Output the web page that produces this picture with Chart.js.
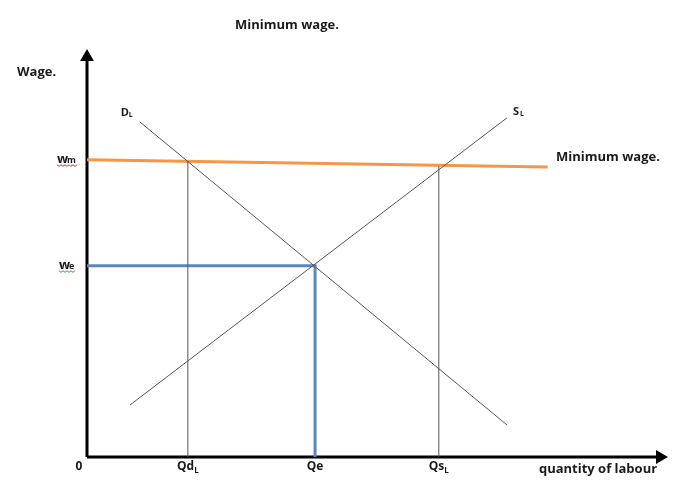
<!DOCTYPE html>
<html>
<head>
<meta charset="utf-8">
<script src="https://cdn.jsdelivr.net/npm/chart.js@4.4.1/dist/chart.umd.min.js"></script>
<style>
  html, body { margin: 0; padding: 0; background: #fff; }
  #wrap { width: 694px; height: 493px; }
</style>
</head>
<body>
<div id="wrap"><canvas id="chart"></canvas></div>
<script>
// quantity of labour (x) and wage (y), both on a 0..100 scale
const quantityTicks = [0, 17.6, 39.8, 61.4];
const quantityLabels = ['0', 'Qd', 'Qe', 'Qs'];
const quantitySubs = ['', 'L', '', 'L'];

const demandX = [9.2, 73.3];
const demandY = [83.8, 8.0];
const supplyX = [7.5, 73.3];
const supplyY = [13.0, 84.8];

const minWageX = [0, 80.4];
const minWageY = [74.3, 72.5];

const eqX = [0, 39.8, 39.8];
const eqY = [47.8, 47.8, 0];

const qdX = [17.6, 17.6];
const qdY = [0, 74.0];
const qsX = [61.4, 61.4];
const qsY = [0, 72.7];

const FONT = '"Open Sans", Lato, sans-serif';

function pts(xs, ys) {
  return xs.map((x, i) => ({ x: x, y: ys[i] }));
}

function line(xs, ys, color, width, extra) {
  return Object.assign({
    data: pts(xs, ys),
    borderColor: color,
    backgroundColor: color,
    borderWidth: width,
    pointRadius: 0,
    tension: 0,
    clip: false,
    fill: false,
  }, extra || {});
}

// draws labels next to marks, plus the heading
const labelPlugin = {
  id: 'labels',
  afterDatasetsDraw(chart) {
    const ctx = chart.ctx;
    const xs = chart.scales.x, ys = chart.scales.y;
    ctx.save();
    ctx.fillStyle = '#1a1a1a';
    ctx.textBaseline = 'middle';

    function txt(s, x, y, size, align) {
      ctx.font = 'bold ' + size + 'px ' + FONT;
      ctx.textAlign = align || 'left';
      ctx.fillText(s, x, y);
      return ctx.measureText(s).width;
    }
    function withSub(main, sub, cx, y) {
      ctx.font = 'bold 12px ' + FONT;
      const w1 = ctx.measureText(main).width;
      ctx.font = 'bold 8px ' + FONT;
      const w2 = sub ? ctx.measureText(sub).width : 0;
      const left = cx - (w1 + w2) / 2;
      txt(main, left, y, 12);
      if (sub) txt(sub, left + w1, y + 4, 8);
    }

    // heading
    txt('Minimum wage.', 287, 25, 13, 'center');
    txt('Wage.', 17, 72, 13);
    txt('Minimum wage.', 556, 157, 13);

    // curve names
    const dx = xs.getPixelForValue(demandX[0]) - 14, dy = ys.getPixelForValue(demandY[0]) - 9;
    txt('D', dx - 5, dy, 11);
    txt('L', dx + 3, dy + 2, 7);
    const sx = xs.getPixelForValue(supplyX[1]) + 6, sy = ys.getPixelForValue(supplyY[1]) - 6;
    txt('S', sx, sy, 11);
    txt('L', sx + 7, sy + 2, 7);

    // quantity ticks
    const by = ys.getPixelForValue(0) + 10;
    quantityTicks.forEach((q, i) => {
      let cx = xs.getPixelForValue(q);
      if (i === 0) cx -= 8;
      withSub(quantityLabels[i], quantitySubs[i], cx, by);
    });
    txt('quantity of labour', 598, by + 2, 13, 'center');

    // wage ticks, baseline aligned
    ctx.textBaseline = 'alphabetic';
    const left = xs.getPixelForValue(0);
    const wmY = ys.getPixelForValue(minWageY[0]) + 3;
    const weY = ys.getPixelForValue(eqY[0]) + 3;
    txt('w', left - 30, wmY, 13);
    txt('m', left - 20, wmY, 9);
    txt('w', left - 28, weY, 13);
    txt('e', left - 18, weY, 9);

    // spell-check squiggles under the wage labels
    function squiggle(x0, x1, y, color) {
      ctx.strokeStyle = color;
      ctx.lineWidth = 1;
      ctx.beginPath();
      for (let x = x0, k = 0; x <= x1; x += 2, k++) {
        const yy = y + (k % 2 ? 1.5 : 0);
        if (k === 0) ctx.moveTo(x, yy); else ctx.lineTo(x, yy);
      }
      ctx.stroke();
    }
    squiggle(left - 30, left - 10, wmY + 2, '#e0302a');
    squiggle(left - 28, left - 12, weY + 2, '#3aa83a');
    ctx.restore();
  }
};

new Chart(document.getElementById('chart'), {
  type: 'scatter',
  data: {
    datasets: [
      line(qdX, qdY, '#555', 1),
      line(qsX, qsY, '#555', 1),
      line(demandX, demandY, '#555', 1),
      line(supplyX, supplyY, '#555', 1),
      line(minWageX, minWageY, '#f79646', 3),
      line(eqX, eqY, '#5b86c0', 3),
      line([0, 100], [0, 0], '#000', 3, { pointRadius: [0, 5], pointStyle: 'triangle', pointRotation: [0, 90] }),
      line([0, 0], [0, 100], '#000', 3, { pointRadius: [0, 5], pointStyle: 'triangle', pointRotation: 0 }),
    ].map(d => Object.assign(d, { showLine: true })),
  },
  options: {
    responsive: true,
    maintainAspectRatio: false,
    animation: false,
    layout: { padding: { left: 87, right: 34, top: 57, bottom: 36 } },
    plugins: { legend: { display: false }, tooltip: { enabled: false } },
    scales: {
      x: { type: 'linear', min: 0, max: 100, display: false },
      y: { type: 'linear', min: 0, max: 100, display: false },
    },
  },
  plugins: [labelPlugin],
});
</script>
</body>
</html>
